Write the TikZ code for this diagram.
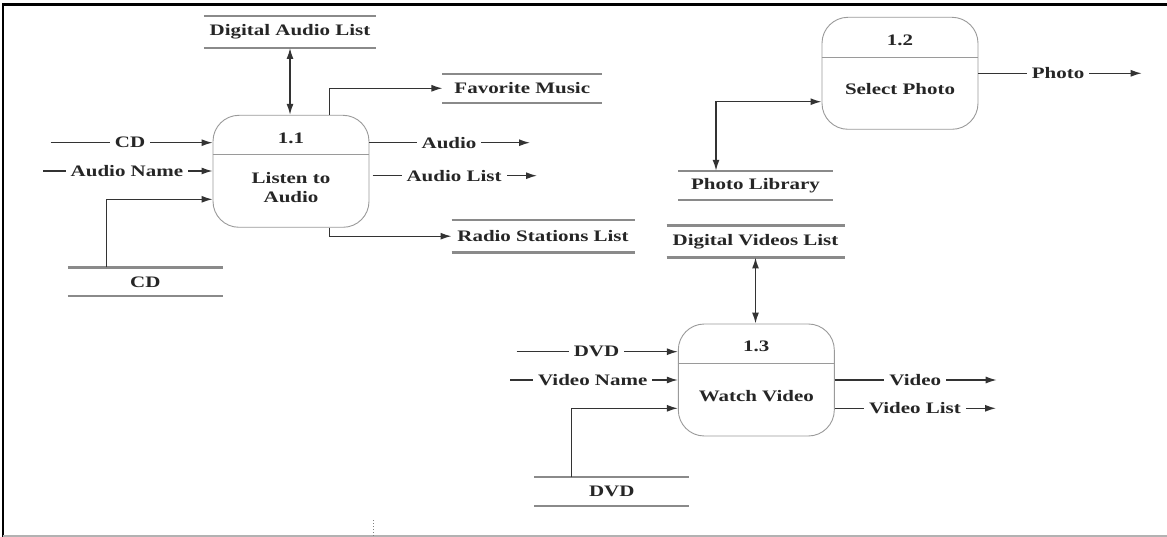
\documentclass[tikz,border=0pt]{standalone}
\usepackage{fontspec}
\setmainfont{Liberation Serif}[FakeStretch=1.31]
\usetikzlibrary{arrows.meta,calc}
\definecolor{ink}{HTML}{262626}
\definecolor{wire}{HTML}{333333}
\definecolor{storegrey}{HTML}{8A8A8A}
\definecolor{boxgrey}{HTML}{9A9A9A}
\begin{document}
\begin{tikzpicture}[x=1pt,y=-1pt,
  every node/.style={font=\fontsize{16}{19}\selectfont\bfseries, text=ink},
  process/.style={draw=boxgrey, line width=0.9pt, rounded corners=26pt,
    minimum width=156pt, minimum height=112pt, inner sep=0pt},
  divider/.style={draw=boxgrey, line width=0.9pt},
  store/.style={inner sep=0pt},
  storeline/.style={draw=storegrey, line width=2.2pt},
  flow/.style={draw=wire, line width=1.3pt, -{Latex[length=11pt,width=7pt]}},
  biflow/.style={draw=wire, line width=1.5pt,
    {Latex[length=11pt,width=7pt]}-{Latex[length=11pt,width=7pt]}},
  lbl/.style={fill=white, inner xsep=5pt, inner ysep=1pt},
]
\useasboundingbox (0,0) rectangle (1167,537);
\fill[white] (0,0) rectangle (1167,537);

% page frame
\draw[black, line width=2.5pt] (3.2,537) -- (3.2,4.6) -- (1167,4.6);
\draw[gray!60, line width=1.5pt] (3.2,536) -- (1167,536);
\draw[gray, dotted, line width=1pt] (373.3,520) -- (373.3,537);

% ---------- processes ----------
\node[process] (p11) at (291,171.3) {};
\draw[divider] ($(p11.north west)+(0,40)$) -- ($(p11.north east)+(0,40)$);
\node (n11) at (291,138) {1.1};
\node[align=center] (t11) at (291,187.5) {Listen to\\Audio};

\node[process] (p12) at (900,73.3) {};
\draw[divider] ($(p12.north west)+(0,40.4)$) -- ($(p12.north east)+(0,40.4)$);
\node (n12) at (900,40) {1.2};
\node (t12) at (900,89.3) {Select Photo};

\node[process] (p13) at (756.3,380) {};
\draw[divider] ($(p13.north west)+(0,40.3)$) -- ($(p13.north east)+(0,40.3)$);
\node (n13) at (756.3,346) {1.3};
\node (t13) at (756.3,395.7) {Watch Video};

% ---------- data stores ----------
\node[store, minimum width=172pt, minimum height=31.7pt] (dal) at (290,31.9) {Digital Audio List};
\node[store, minimum width=159.3pt, minimum height=28.7pt] (fav) at (522.3,88.3) {Favorite Music};
\node[store, minimum width=182.6pt, minimum height=32.3pt] (radio) at (543,236.2) {Radio Stations List};
\node[store, minimum width=154.7pt, minimum height=28.3pt] (cds) at (145.3,281.8) {CD};
\node[store, minimum width=154.4pt, minimum height=29pt] (plib) at (755.5,185.5) {Photo Library};
\node[store, minimum width=177.6pt, minimum height=31.6pt] (dvl) at (755.5,241.5) {Digital Videos List};
\node[store, minimum width=154.7pt, minimum height=28.4pt] (dvds) at (611.7,491.5) {DVD};
\foreach \s in {dal,fav,radio,cds,plib,dvl,dvds}
  \draw[storeline] (\s.north west) -- (\s.north east) (\s.south west) -- (\s.south east);

% ---------- free ends of the flows ----------
\coordinate (cdin) at (50.7,142.7);
\coordinate (anamein) at (43,171);
\coordinate (audioout) at (530,142.7);
\coordinate (alstart) at (372.7,175.7);
\coordinate (alout) at (537,175.7);
\coordinate (photoout) at (1141.7,73.3);
\coordinate (dvdin) at (516.7,351.7);
\coordinate (vnamein) at (510,380);
\coordinate (videoout) at (996.7,380);
\coordinate (vlout) at (996,408.3);

% ---------- flows of 1.1 ----------
\draw[biflow] (dal.south) -- (dal.south |- p11.north);
\draw[flow] (cdin) -- node[lbl, pos=0.49] {CD} (cdin -| p11.west);
\draw[flow] (anamein) -- node[lbl, pos=0.495] {Audio Name} (anamein -| p11.west);
\draw[flow] ($(cds.north)+(-38.6,0)$) |- ($(p11.west)+(0,28)$);
\draw[flow] ($(p11.north)+(38.3,0)$) |- (fav.west);
\draw[flow] ($(p11.south)+(38.3,0)$) |- (radio.west);
\draw[flow] (audioout -| p11.east) -- node[lbl, pos=0.496] {Audio} (audioout);
\draw[flow] (alstart) -- node[lbl, pos=0.495] {Audio List} (alout);

% ---------- flows of 1.2 ----------
\draw[flow] (p12.east) -- node[lbl, pos=0.488] {Photo} (photoout);
\draw[biflow] ($(plib.north)+(-39.5,0)$) |- ($(p12.west)+(0,28.4)$);

% ---------- flows of 1.3 ----------
\draw[biflow] (dvl.south) -- (dvl.south |- p13.north);
\draw[flow] (dvdin) -- node[lbl, pos=0.495] {DVD} (dvdin -| p13.west);
\draw[flow] (vnamein) -- node[lbl, pos=0.493] {Video Name} (p13.west);
\draw[flow] ($(dvds.north)+(-40,0)$) |- ($(p13.west)+(0,28.3)$);
\draw[flow] (p13.east) -- node[lbl, pos=0.497] {Video} (videoout);
\draw[flow] ($(p13.east)+(0,28.3)$) -- node[lbl, pos=0.497] {Video List} (vlout);
\end{tikzpicture}
\end{document}
